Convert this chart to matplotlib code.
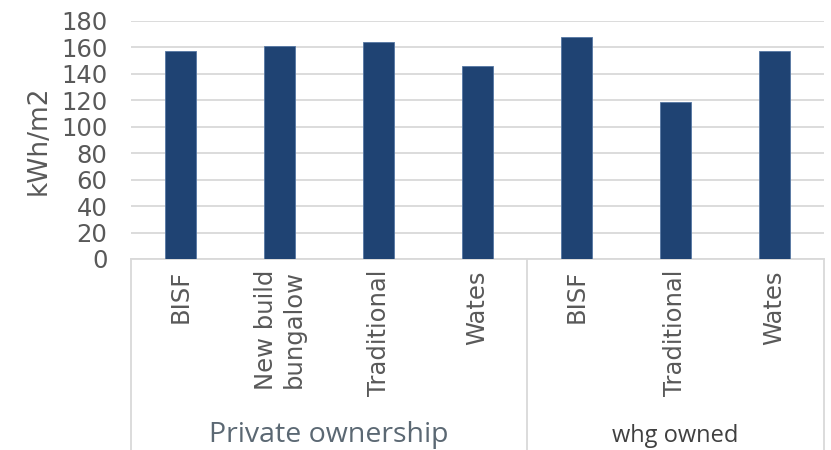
import matplotlib
matplotlib.use("Agg")
import matplotlib.pyplot as plt

plt.rcParams["font.family"] = ["DejaVu Sans"]

# data
categories = ["BISF", "New build\nbungalow", "Traditional", "Wates",
              "BISF", "Traditional", "Wates"]
values = [157, 161, 164, 146, 168, 119, 157]
groups = ["Private ownership", "whg owned"]
group_sizes = [4, 3]
yticks = [0, 20, 40, 60, 80, 100, 120, 140, 160, 180]

bar_color = "#1F4373"
grid_color = "#D9D9D9"
text_color = "#595959"

fig = plt.figure(figsize=(8.31, 4.5), dpi=100)
ax = fig.add_axes([131 / 831, 1 - 259 / 450, (824 - 131) / 831, (259 - 21) / 450])

x = list(range(len(values)))
ax.bar(x, values, width=0.32, color=bar_color, edgecolor="#5577A3", linewidth=0.6, zorder=3)

ax.set_xlim(-0.5, len(values) - 0.5)
ax.set_ylim(0, 180)
ax.set_yticks(yticks)
ax.set_yticklabels([str(v) for v in yticks], fontsize=17.5, color=text_color)
ax.tick_params(axis="y", length=0, pad=17)
ax.grid(axis="y", color=grid_color, linewidth=1.3, zorder=0)

ax.set_xticks(x)
ax.set_xticklabels(categories, rotation=90, fontsize=17.5, color=text_color,
                   va="top", ha="center", multialignment="right")
ax.tick_params(axis="x", length=0, pad=8)

for side in ["top", "right", "left"]:
    ax.spines[side].set_visible(False)
ax.spines["bottom"].set_color(grid_color)
ax.spines["bottom"].set_linewidth(1.3)

ax.set_ylabel("kWh/m2", fontsize=19, color=text_color, labelpad=7)

# group separators and labels under the category labels
trans = ax.get_xaxis_transform()
edges = [-0.5]
for n in group_sizes:
    edges.append(edges[-1] + n)
for e in edges:
    ax.plot([e, e], [0, -0.81], transform=trans, color=grid_color, linewidth=1.3,
            clip_on=False, zorder=1)

group_fonts = [(20.5, "#5B6873"), (17, "#404040")]
for i, g in enumerate(groups):
    cx = (edges[i] + edges[i + 1]) / 2
    size, col = group_fonts[i]
    ax.text(cx, -0.77, g, transform=trans, ha="center", va="baseline",
            fontsize=size, color=col, family=["Open Sans", "DejaVu Sans"])

fig.savefig("out.png", dpi=100)
